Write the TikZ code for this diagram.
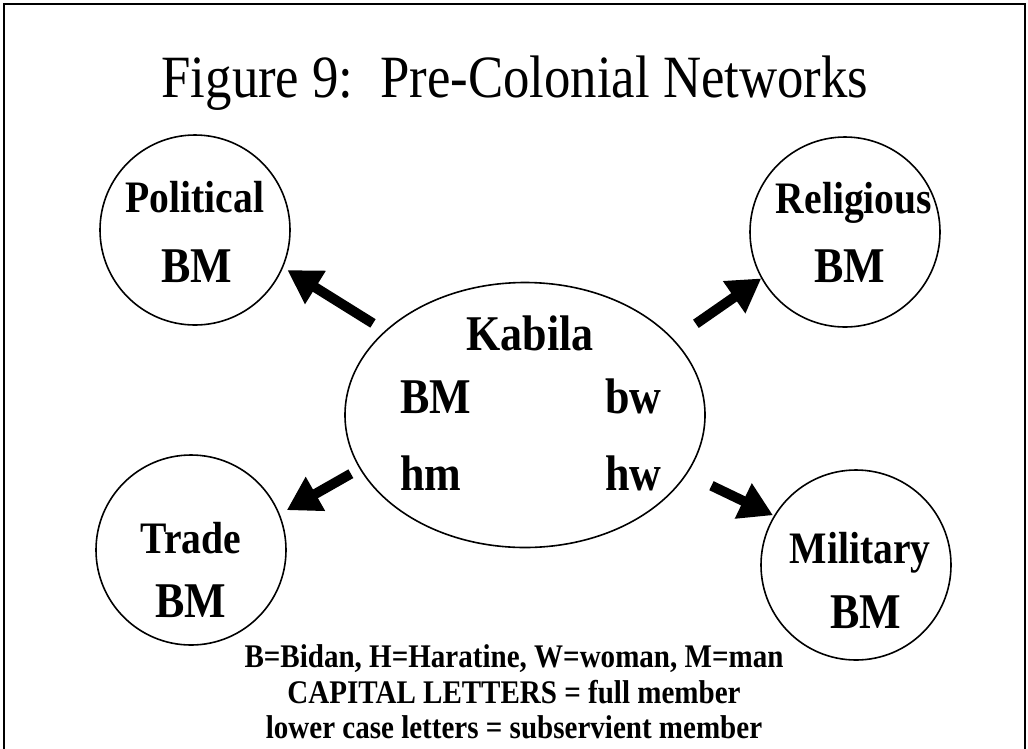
\documentclass[tikz,border=0pt]{standalone}
\usepackage{fontspec}
\setmainfont{Liberation Serif}[FakeStretch=0.88]
\usetikzlibrary{arrows.meta}
\usetikzlibrary{shapes.geometric}

\begin{document}
\begin{tikzpicture}[x=1pt,y=-1pt,
  group/.style={draw,circle,line width=1.6pt,minimum size=190pt,inner sep=0pt},
  word/.style={font=\bfseries\fontsize{45}{45}\selectfont,anchor=base,inner sep=0pt},
  member/.style={font=\bfseries\fontsize{50}{50}\selectfont,anchor=base,inner sep=0pt},
  key/.style={font=\bfseries\fontsize{33}{33}\selectfont,anchor=base,inner sep=0pt},
  link/.style={line width=10pt,-{Triangle[length=33pt,width=37pt]}}]
  \useasboundingbox (0,0) rectangle (1028,748);
  \draw[line width=1.6pt] (4,760) -- (4,4) -- (1025,4) -- (1025,760);
  \node[anchor=base,inner sep=0pt,font=\fontsize{60}{60}\selectfont] (title) at (515,97) {Figure 9:\ \ Pre-Colonial Networks};

  \node[draw,ellipse,line width=1.6pt,minimum width=360pt,minimum height=265pt,inner sep=0pt] (kab) at (525,415) {};
  \node[group] (pol) at (195,230) {};
  \node[group] (rel) at (845,232) {};
  \node[group] (trd) at (191,550) {};
  \node[group] (mil) at (856,565) {};

  \node[member] (kabName) at (530,350) {Kabila};
  \node[member,anchor=base west] (kabBM) at (400,413) {BM};
  \node[member,anchor=base west] (kabbw) at (605,413) {bw};
  \node[member,anchor=base west] (kabhm) at (400,490) {hm};
  \node[member,anchor=base west] (kabhw) at (605,490) {hw};

  \node[word] (polName) at (195,212) {Political};
  \node[member] (polBM) at (197,282) {BM};
  \node[word] (relName) at (854,213) {Religious};
  \node[member] (relBM) at (850,282) {BM};
  \node[word] (trdName) at (191,553) {Trade};
  \node[member] (trdBM) at (191,617) {BM};
  \node[word] (milName) at (860,563) {Military};
  \node[member] (milBM) at (866,628) {BM};

  \node[key] (key1) at (514,667) {B=Bidan, H=Haratine, W=woman, M=man};
  \node[key] (key2) at (514,703) {CAPITAL LETTERS = full member};
  \node[key] (key3) at (514,738) {lower case letters = subservient member};

  \draw[link,shorten <=14pt,shorten >=5pt] (kab.149.5) -- (pol.337.1);
  \draw[link,shorten <=27pt,shorten >=0pt] (kab.27.9) -- (rel.209.4);
  \draw[link,shorten <=10pt,shorten >=8pt] (kab.198.5) -- (trd.22.6);
  \draw[link,shorten <=27pt,shorten >=1pt] (kab.340) -- (mil.149.9);
\end{tikzpicture}
\end{document}
